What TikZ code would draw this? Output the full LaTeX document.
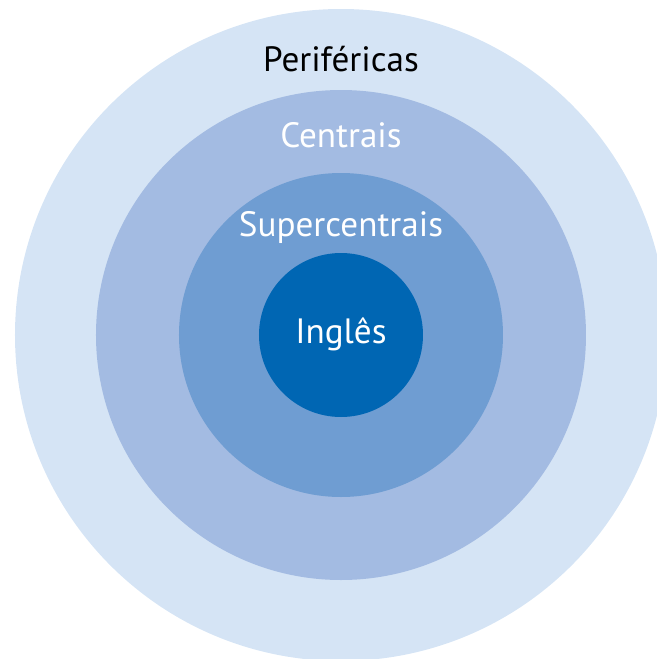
\documentclass[tikz,border=0pt]{standalone}
\usepackage{fontspec}
\setmainfont{PT Sans}
\definecolor{periferica}{HTML}{D5E4F5}
\definecolor{central}{HTML}{A3BBE2}
\definecolor{supercentral}{HTML}{6F9DD2}
\definecolor{ingles}{HTML}{0066B3}
\tikzset{rotulo/.style={anchor=base,font=\fontsize{20}{24}\selectfont}}
\begin{document}
\begin{tikzpicture}
    \useasboundingbox (-6.82,-6.48) rectangle (6.30,6.70);
    \fill [periferica] (0,0) circle (6.52);
    \fill [central] (0,0) circle (4.9);
    \fill [supercentral] (0,0) circle (3.24);
    \fill [ingles] (0,0) circle (1.64);
    \node [rotulo,text=black] (perifericas) at (0,5.28) {Periféricas};
    \node [rotulo,text=white] (centrais) at (0,3.76) {Centrais};
    \node [rotulo,text=white] (supercentrais) at (0,1.98) {Supercentrais};
    \node [rotulo,text=white] (ingles) at (0,-0.16) {Inglês};
    \end{tikzpicture}
\end{document}
